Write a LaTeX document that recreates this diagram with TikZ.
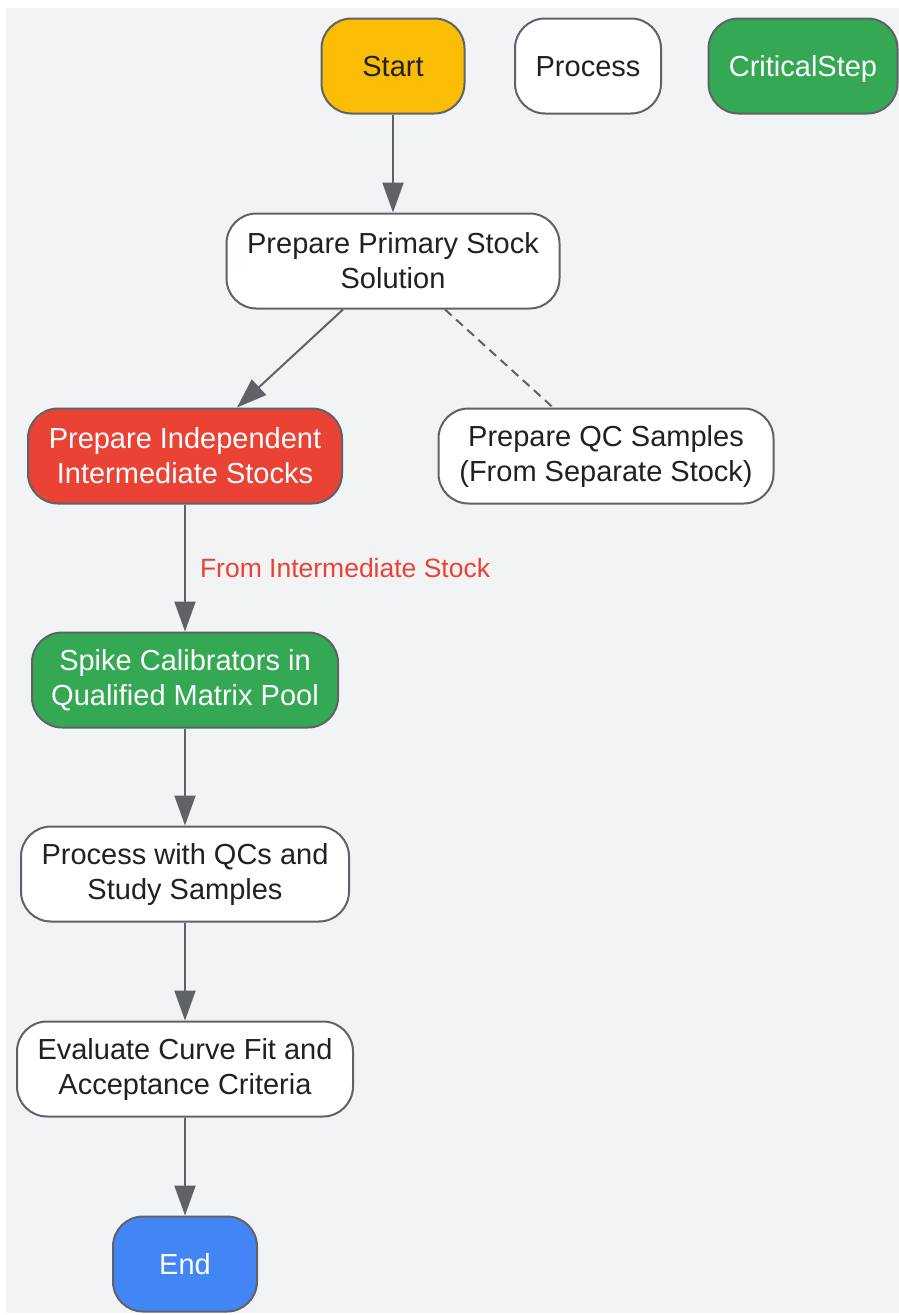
\documentclass[tikz,border=0pt]{standalone}
\usepackage{fontspec}
\setmainfont{Liberation Sans}
\usetikzlibrary{arrows.meta}

\definecolor{bgGrey}{HTML}{F1F3F4}
\definecolor{edgeGrey}{HTML}{5F6368}
\definecolor{inkDark}{HTML}{202124}
\definecolor{startYellow}{HTML}{FBBC04}
\definecolor{stepGreen}{HTML}{34A853}
\definecolor{alertRed}{HTML}{EA4335}
\definecolor{endBlue}{HTML}{4285F4}

\begin{document}
\begin{tikzpicture}[x=1pt, y=-1pt, >={Triangle[length=30pt,width=21pt]},
    box/.style={draw=edgeGrey, line width=2pt, rounded corners=30pt, align=center, inner sep=0pt,
        font=\fontsize{29}{35}\selectfont, text=inkDark, fill=white, minimum height=95pt},
    oneline/.style={text height=21pt, text depth=0pt},
    link/.style={->, draw=edgeGrey, line width=2pt}]
    % page and background
    \useasboundingbox (0,0) rectangle (899,1315);
    \fill [bgGrey] (6,8) rectangle (899,1313);

    % legend row
    \node (start) at (393,66) [box, oneline, fill=startYellow, minimum width=143pt] {Start};
    \node (legProcess) at (588,66) [box, oneline, minimum width=146pt] {Process};
    \node (legCritical) at (803,66) [box, oneline, fill=stepGreen, text=white, minimum width=189pt] {CriticalStep};

    % main flow
    \node (primary) at (393,261) [box, minimum width=333pt] {Prepare Primary Stock\\Solution};
    \node (indep) at (185,456) [box, fill=alertRed, text=white, minimum width=314pt] {Prepare Independent\\Intermediate Stocks};
    \node (qc) at (606,456) [box, minimum width=335pt] {Prepare QC Samples\\(From Separate Stock)};
    \node (spike) at (185,680) [box, fill=stepGreen, text=white, minimum width=306pt] {Spike Calibrators in\\Qualified Matrix Pool};
    \node (runQC) at (185,874) [box, minimum width=328pt] {Process with QCs and\\Study Samples};
    \node (evaluate) at (185,1069) [box, minimum width=336pt] {Evaluate Curve Fit and\\Acceptance Criteria};
    \node (finish) at (185,1264) [box, oneline, fill=endBlue, text=white, minimum width=144pt] {End};

    \draw [link] (start) -- (primary);
    \draw [link] ([xshift=-50pt]primary.south) -- ([xshift=52pt]indep.north);
    \draw [draw=edgeGrey, line width=2pt, dash pattern=on 9pt off 6pt] ([xshift=52pt]primary.south) -- ([xshift=-53pt]qc.north);
    \draw [link] (indep) -- (spike) node [midway, right=14pt, inner sep=0pt, text=alertRed, font=\fontsize{26.5}{30}\selectfont] {From Intermediate Stock};
    \draw [link] (spike) -- (runQC);
    \draw [link] (runQC) -- (evaluate);
    \draw [link] (evaluate) -- (finish);
\end{tikzpicture}
\end{document}
